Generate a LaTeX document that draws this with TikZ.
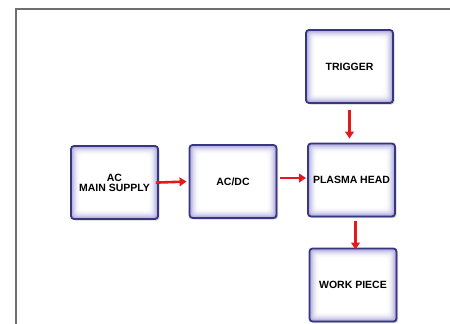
\documentclass[tikz,border=0pt]{standalone}
\usepackage{fontspec}
\setmainfont{Liberation Sans}
\usetikzlibrary{arrows.meta,shadows}

\definecolor{boxedge}{HTML}{383680}
\definecolor{boxglow}{HTML}{9C98D6}
\definecolor{arrowred}{HTML}{E3191B}
\definecolor{framegray}{HTML}{6E6E6E}

\tikzset{
  block/.style={draw=boxedge, line width=1.8pt, rounded corners=3pt,
    minimum width=87pt, minimum height=73pt, align=center,
    font=\fontsize{10.5}{11}\selectfont\bfseries, fill=white,
    drop shadow={opacity=0.35, shadow xshift=1.5pt, shadow yshift=-1.5pt},
    path picture={
      \foreach \i/\c in {0/90,1/72,2/56,3/42,4/30,5/20,6/12,7/6,8/2,9/0}
        \fill[boxglow!\c!white, rounded corners=3pt]
          ([shift={(\i pt,-\i pt)}]path picture bounding box.north west) rectangle
          ([shift={(-\i pt,\i pt)}]path picture bounding box.south east);
    }},
  flow/.style={draw=arrowred, line width=2.6pt, -{Triangle[length=7pt,width=8.5pt]}}
}

\begin{document}
\begin{tikzpicture}[x=1pt,y=-1pt]
  \useasboundingbox (0,0) rectangle (450,324);
  \fill[white] (0,0) rectangle (450,324);

  % Frame round the page
  \draw[framegray, line width=1.6pt] (16,324) -- (16,9) -- (450,9);

  % Blocks
  \node[block] (supply) at (114.5,182.5) {AC\\[-1pt]MAIN SUPPLY};
  \node[block] (acdc) at (233,181.5) {AC/DC};
  \node[block] (plasma) at (351.5,180) {PLASMA HEAD};
  \node[block] (trigger) at (349.5,66.5) {TRIGGER};
  \node[block] (work) at (353,285) {WORK PIECE};

  % Arrows
  \draw[flow, shorten <=-3pt, shorten >=2pt] (supply.east) -- (acdc.west);
  \draw[flow, shorten <=3pt, shorten >=1pt] (acdc.east |- 0,178) -- (plasma.west |- 0,178);
  \draw[flow, shorten <=6pt, shorten >=4pt] (trigger.south) -- (trigger.south |- plasma.north);
  \draw[flow, shorten <=4pt, shorten >=-2pt] ([xshift=4pt]plasma.south) -- ([xshift=4pt]plasma.south |- work.north);
\end{tikzpicture}
\end{document}
